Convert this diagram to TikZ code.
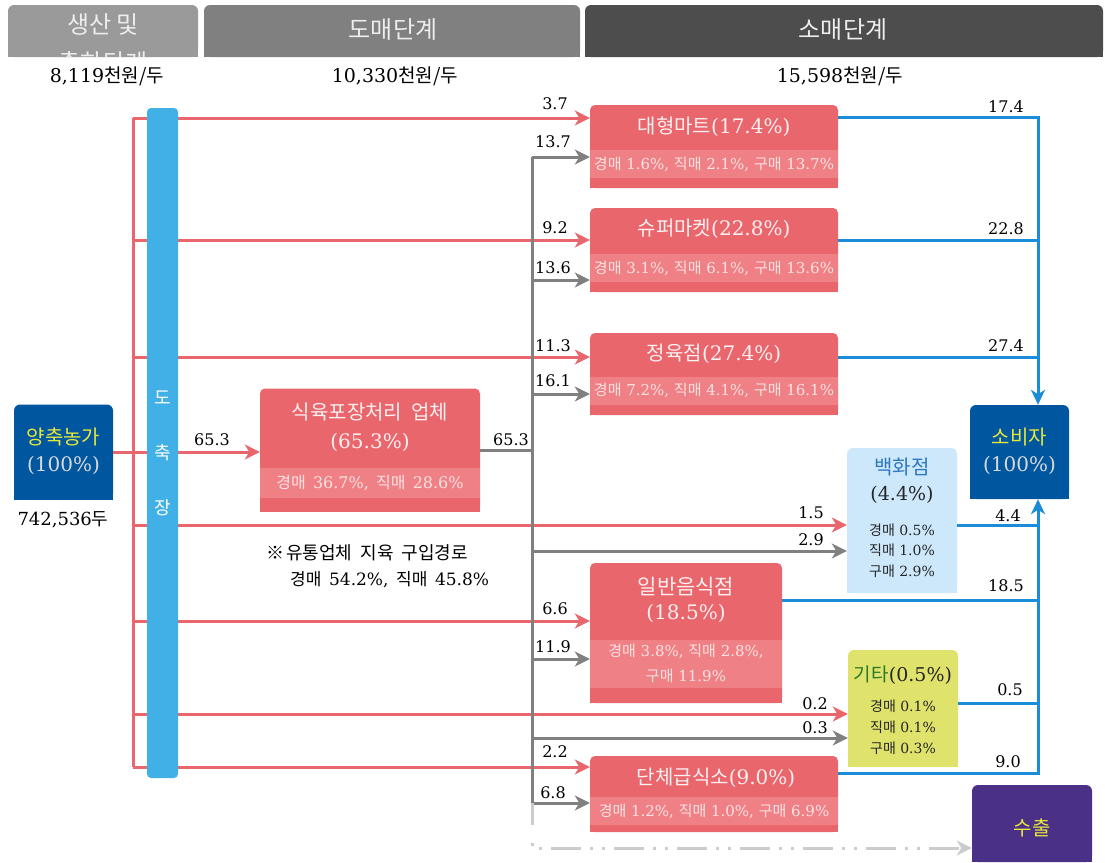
\documentclass[tikz,border=0pt]{standalone}
\usepackage{fontspec}
\setmainfont{DejaVu Serif}
\newfontfamily\krf{Noto Sans CJK KR}
\newcommand\hg[1]{{\krf #1}}
\newcommand\fs[1]{\fontsize{#1}{#1}\selectfont}
\newcommand\wsp{\hspace{0.45em}}
\usetikzlibrary{arrows.meta}
\definecolor{cH1}{HTML}{9A9A9A}
\definecolor{cH2}{HTML}{808080}
\definecolor{cH3}{HTML}{4D4D4D}
\definecolor{cRed}{HTML}{EA666D}
\definecolor{cBand}{HTML}{EF8186}
\definecolor{cBar}{HTML}{41B0E6}
\definecolor{cDB}{HTML}{0057A0}
\definecolor{cYel}{HTML}{E8E83A}
\definecolor{cBL}{HTML}{1A8CD8}
\definecolor{cGr}{HTML}{808080}
\definecolor{cLG}{HTML}{CCCCCC}
\definecolor{cLB}{HTML}{CCE8FA}
\definecolor{cLBt}{HTML}{2E78C0}
\definecolor{cEtc}{HTML}{DFE36C}
\definecolor{cEtct}{HTML}{2A7A2A}
\definecolor{cPur}{HTML}{4B3088}
\definecolor{cWt}{HTML}{FDF0F0}
\definecolor{cBt}{HTML}{FBE2E2}
\begin{document}
\begin{tikzpicture}[x=1pt,y=-1pt,
  lbl/.style={font=\fs{16}, text=black, inner sep=0},
  htxt/.style={font=\fs{24}, text=white!93!black, inner sep=0},
  hdr/.style={rounded corners=6pt, inner sep=0},
  rbox/.style={fill=cRed, rounded corners=5pt, inner sep=0},
  band/.style={fill=cBand, inner sep=0, minimum height=28, font=\fs{15}, text=cBt},
  ttl/.style={font=\fs{20}, text=cWt, inner sep=0},
  dbox/.style={fill=cDB, rounded corners=6pt, inner sep=0},
  small/.style={font=\fs{14}, text=black!85, inner sep=0},
  rline/.style={draw=cRed, line width=3pt},
  rarr/.style={rline, -{Stealth[length=15pt,width=15pt,inset=4.5pt]}},
  gline/.style={draw=cGr, line width=3pt},
  garr/.style={gline, -{Stealth[length=15pt,width=15pt,inset=4.5pt]}},
  bline/.style={draw=cBL, line width=3pt},
  barr/.style={bline, -{Stealth[length=15pt,width=14pt,inset=4.5pt]}},
]
\useasboundingbox (0,0) rectangle (1105,862);
\fill[white] (0,0) rectangle (1105,862);

% headers
\node[hdr, fill=cH1, minimum width=190, minimum height=52] (h1) at (103,31) {};
\fill[cH1] (h1.west) rectangle (h1.south east);
\node[hdr, fill=cH2, minimum width=376, minimum height=52] (h2) at (392,31) {};
\fill[cH2] (h2.west) rectangle (h2.south east);
\node[hdr, fill=cH3, minimum width=518, minimum height=52] (h3) at (844,31) {};
\fill[cH3] (h3.west) rectangle (h3.south east);
\begin{scope}
\clip (h1.north west) rectangle (h1.south east);
\node[htxt] (h1t) at (103,24) {\hg{생산 및}};
\node[htxt] (h1u) at (103,62) {\hg{출하단계}};
\end{scope}
\node[htxt] (h2t) at (393,30) {\hg{도매단계}};
\node[htxt] (h3t) at (843,30) {\hg{소매단계}};

\node[lbl, font=\fs{19}] (p1) at (107,76) {8,119\hg{천원/두}};
\node[lbl, font=\fs{19}] (p2) at (395,76) {10,330\hg{천원/두}};
\node[lbl, font=\fs{19}] (p3) at (840,76) {15,598\hg{천원/두}};

% retail boxes
\node[rbox, minimum width=248, minimum height=83] (dm) at (714,146.5) {};
\fill[cRed] (dm.west) rectangle (dm.south east);
\node[rbox, minimum width=248, minimum height=84] (sm) at (714,250) {};
\fill[cRed] (sm.west) rectangle (sm.south east);
\node[rbox, minimum width=248, minimum height=82] (jy) at (714,374) {};
\fill[cRed] (jy.west) rectangle (jy.south east);
\node[rbox, minimum width=192, minimum height=140] (ib) at (686,633) {};
\fill[cRed] (ib.west) rectangle (ib.south east);
\node[rbox, minimum width=248, minimum height=76] (dc) at (714,794) {};
\fill[cRed] (dc.west) rectangle (dc.south east);
\node[rbox, minimum width=220, minimum height=123] (pk) at (370,450) {};
\fill[cRed] (pk.west) rectangle (pk.south east);

\node[ttl] (dmt) at (714,127) {\hg{대형마트}(17.4\%)};
\node[band, minimum width=248] (dmb) at (714,164) {\hg{경매} 1.6\%, \hg{직매} 2.1\%, \hg{구매} 13.7\%};
\node[ttl] (smt) at (714,229) {\hg{슈퍼마켓}(22.8\%)};
\node[band, minimum width=248] (smb) at (714,268) {\hg{경매} 3.1\%, \hg{직매} 6.1\%, \hg{구매} 13.6\%};
\node[ttl] (jyt) at (714,354) {\hg{정육점}(27.4\%)};
\node[band, minimum width=248] (jyb) at (714,390.5) {\hg{경매} 7.2\%, \hg{직매} 4.1\%, \hg{구매} 16.1\%};
\node[ttl, font=\fs{21}] (ibt) at (686,587) {\hg{일반음식점}};
\node[ttl] (ibu) at (686,613) {(18.5\%)};
\node[band, minimum width=192, minimum height=48] (ibb) at (686,664) {};
\node[band, fill=none] (ibb1) at (686,651) {\hg{경매} 3.8\%, \hg{직매} 2.8\%,};
\node[band, fill=none] (ibb2) at (686,676) {\hg{구매} 11.9\%};
\node[ttl] (dct) at (716,778) {\hg{단체급식소}(9.0\%)};
\node[band, minimum width=248] (dcb) at (714,811) {\hg{경매} 1.2\%, \hg{직매} 1.0\%, \hg{구매} 6.9\%};
\node[ttl, font=\fs{20}] (pkt) at (370,412) {\hg{식육포장처리}\wsp\hg{업체}};
\node[ttl] (pku) at (370,442) {(65.3\%)};
\node[band, minimum width=220, minimum height=30, font=\fs{16}] (pkb) at (370,483) {\hg{경매}\wsp 36.7\%,\wsp\hg{직매}\wsp 28.6\%};

% department store
\node[fill=cLB, rounded corners=6pt, inner sep=0, minimum width=110, minimum height=145] (bh) at (902,520.5) {};
\fill[cLB] (bh.west) rectangle (bh.south east);
\node[inner sep=0, font=\fs{20}, text=cLBt] (bht) at (902,467) {\hg{백화점}};
\node[inner sep=0, font=\fs{19}, text=black!85] (bhu) at (902,495) {(4.4\%)};
\node[small] (bh1) at (902,530) {\hg{경매} 0.5\%};
\node[small] (bh2) at (902,550) {\hg{직매} 1.0\%};
\node[small] (bh3) at (902,571) {\hg{구매} 2.9\%};

% etc
\node[fill=cEtc, rounded corners=6pt, inner sep=0, minimum width=110, minimum height=117] (gt) at (903,708.5) {};
\fill[cEtc] (gt.west) rectangle (gt.south east);
\node[inner sep=0, font=\fs{19}, text=black!85] (gtt) at (903,675) {{\color{cEtct}\hg{기타}}(0.5\%)};
\node[small] (gt1) at (903,706) {\hg{경매} 0.1\%};
\node[small] (gt2) at (903,727) {\hg{직매} 0.1\%};
\node[small] (gt3) at (903,748) {\hg{구매} 0.3\%};

% export
\node[fill=cPur, rounded corners=6pt, inner sep=0, minimum width=120, minimum height=77] (ex) at (1032,823.5) {};
\fill[cPur] (ex.west) rectangle (ex.south east);
\node[inner sep=0, font=\fs{20}, text=cYel] (ext) at (1032,828) {\hg{수출}};

% farm
\node[dbox, minimum width=99, minimum height=95] (farm) at (63.5,452) {};
\fill[cDB] (farm.west) rectangle (farm.south east);
\node[inner sep=0, font=\fs{20}, text=cYel] (farmt) at (63.5,437) {\hg{양축농가}};
\node[inner sep=0, font=\fs{20}, text=white!85!black] (farmu) at (63.5,465) {(100\%)};
\node[lbl, font=\fs{18}] (farmn) at (63,520) {742,536\hg{두}};

% consumer
\node[dbox, minimum width=99, minimum height=94] (cons) at (1019.5,452) {};
\fill[cDB] (cons.west) rectangle (cons.south east);
\node[inner sep=0, font=\fs{20}, text=cYel] (const) at (1019.5,437) {\hg{소비자}};
\node[inner sep=0, font=\fs{20}, text=white!85!black] (consu) at (1019.5,465) {(100\%)};

% red lines
\coordinate (rT) at (133,118);
\coordinate (rB) at (133,767);
\coordinate (r2) at (133,240);
\coordinate (r3) at (133,357);
\coordinate (r5) at (133,525);
\coordinate (r6) at (133,621);
\coordinate (r7) at (133,714);
\draw[rline] (rT) -- (rB);
\draw[rarr] (rT) -- (rT -| dm.west);
\draw[rarr] (r2) -- (r2 -| sm.west);
\draw[rarr] (r3) -- (r3 -| jy.west);
\draw[rarr] (farm.east) -- (farm.east -| pk.west);
\draw[rarr] (r5) -- (r5 -| bh.west);
\draw[rarr] (r6) -- (r6 -| ib.west);
\draw[rarr] (r7) -- (r7 -| gt.west);
\draw[rarr] (rB) -- (rB -| dc.west);

% slaughterhouse bar
\node[fill=cBar, rounded corners=4pt, inner sep=0, minimum width=31, minimum height=670] (dcj) at (162.5,443) {};
\node[inner sep=0, font=\fs{18}, text=white] (dcj1) at (162.5,398) {\hg{도}};
\node[inner sep=0, font=\fs{18}, text=white] (dcj2) at (162.5,453) {\hg{축}};
\node[inner sep=0, font=\fs{18}, text=white] (dcj3) at (162.5,508) {\hg{장}};

% gray lines
\coordinate (gT) at (532,157);
\coordinate (gB) at (532,803);
\coordinate (g2) at (532,280);
\coordinate (g3) at (532,394);
\coordinate (g5) at (532,551);
\coordinate (g6) at (532,659);
\coordinate (g7) at (532,738);
\draw[gline] (gT) -- (gB);
\draw[gline] (pk.east) -- (pk.east -| gT);
\draw[garr] (gT) -- (gT -| dm.west);
\draw[garr] (g2) -- (g2 -| sm.west);
\draw[garr] (g3) -- (g3 -| jy.west);
\draw[garr] (g5) -- (g5 -| bh.west);
\draw[garr] (g6) -- (g6 -| ib.west);
\draw[garr] (g7) -- (g7 -| gt.west);
\draw[garr] (gB) -- (gB -| dc.west);

% light gray export path
\coordinate (lgA) at (532,825);
\coordinate (lgB) at (532,843);
\coordinate (lgC) at (532,848);
\draw[draw=cLG, line width=3pt] (gB) -- (lgA);
\draw[draw=cLG, line width=3pt, dash pattern=on 3pt off 9pt on 3pt off 9pt on 30pt off 9pt, -{Stealth[length=15pt,width=15pt,inset=4.5pt]}] (lgB) -- (lgC) -- (lgC -| ex.west);

% blue lines
\coordinate (bT) at (1038,117);
\coordinate (bB) at (1038,773);
\coordinate (b2) at (1038,240);
\coordinate (b3) at (1038,357);
\coordinate (b5) at (1038,525);
\coordinate (b6) at (1038,600);
\coordinate (b7) at (1038,703);
\draw[barr] (bT -| dm.east) -- (bT) -- (bT |- cons.north);
\draw[bline] (b2 -| sm.east) -- (b2);
\draw[bline] (b3 -| jy.east) -- (b3);
\draw[barr] (bB -| dc.east) -- (bB) -- (bB |- cons.south);
\draw[bline] (b5 -| bh.east) -- (b5);
\draw[bline] (b6 -| ib.east) -- (b6);
\draw[bline] (b7 -| gt.east) -- (b7);

% labels
\node[lbl] (l1) at (555,104) {3.7};
\node[lbl] (l2) at (555,228) {9.2};
\node[lbl] (l3) at (553,346) {11.3};
\node[lbl] (l4) at (212,440) {65.3};
\node[lbl] (l5) at (811,513) {1.5};
\node[lbl] (l6) at (555,609) {6.6};
\node[lbl] (l7) at (815,704) {0.2};
\node[lbl] (l8) at (555,752) {2.2};
\node[lbl] (m1) at (553,142) {13.7};
\node[lbl] (m2) at (553,268) {13.6};
\node[lbl] (m3) at (553,381) {16.1};
\node[lbl] (m4) at (511,440) {65.3};
\node[lbl] (m5) at (811,540) {2.9};
\node[lbl] (m6) at (553,647) {11.9};
\node[lbl] (m7) at (815,728) {0.3};
\node[lbl] (m8) at (553,793) {6.8};
\node[lbl] (n1) at (1006,107) {17.4};
\node[lbl] (n2) at (1006,229) {22.8};
\node[lbl] (n3) at (1006,346) {27.4};
\node[lbl] (n4) at (1008,516) {4.4};
\node[lbl] (n5) at (1006,586) {18.5};
\node[lbl] (n6) at (1010,690) {0.5};
\node[lbl] (n7) at (1008,762) {9.0};

% note
\node[lbl, anchor=west, font=\fs{18}] (note1) at (266,553) {\hg{※}\hspace{2pt}\hg{유통업체}\wsp\hg{지육}\wsp\hg{구입경로}};
\node[lbl, anchor=west, font=\fs{17}] (note2) at (290,580) {\hg{경매}\wsp 54.2\%,\wsp\hg{직매}\wsp 45.8\%};
\end{tikzpicture}
\end{document}
